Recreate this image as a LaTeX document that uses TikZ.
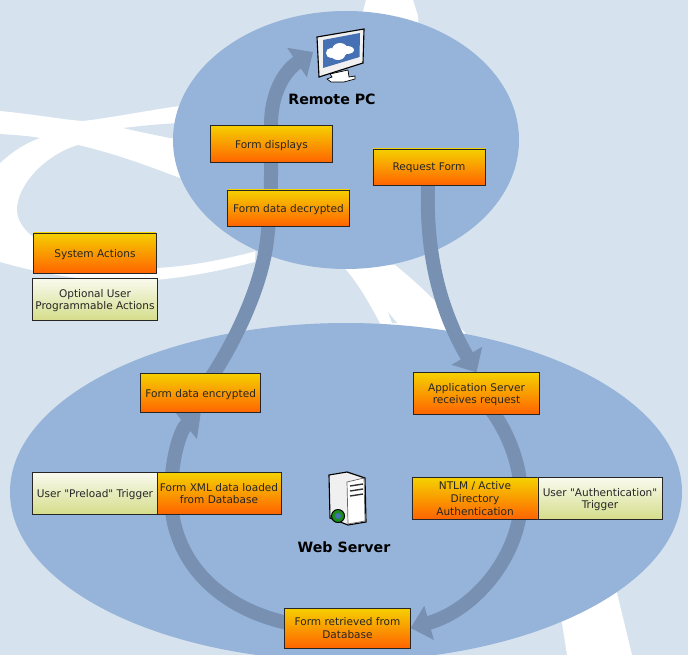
\documentclass[tikz,border=0pt]{standalone}
\usepackage{fontspec}
\setmainfont{DejaVu Sans}[Ligatures=TeXOff]
\usetikzlibrary{arrows.meta,backgrounds}
\definecolor{paleblue}{HTML}{D6E3EE}
\definecolor{cloudblue}{HTML}{96B3D9}
\definecolor{flowblue}{HTML}{7891B3}
\definecolor{screenblue}{HTML}{4670B4}
\definecolor{actiontop}{HTML}{F5D000}
\definecolor{actionbottom}{HTML}{FF6400}
\definecolor{triggertop}{HTML}{F9FAEE}
\definecolor{triggerbottom}{HTML}{D5DD8A}
\tikzset{
  action/.style = {draw=black!85, line width=0.7pt, top color=actiontop, bottom color=actionbottom, inner sep=0pt, align=center, text depth=-0.6pt, font=\fontsize{7.5}{9.2}\selectfont, text=black!85},
  trigger/.style = {action, top color=triggertop, bottom color=triggerbottom},
  flow/.style = {draw=flowblue, line width=0.35cm, -{Triangle[length=0.48cm,width=0.86cm]}},
  hostname/.style = {font=\fontsize{10.1}{12}\selectfont\bfseries, text=black},
}
\begin{document}
\begin{tikzpicture}[x=0.025cm, y=-0.025cm]
\useasboundingbox (0,0) rectangle (688,655);
\begin{scope}[every node/.style = {action}]
\node[minimum width=3.03cm, minimum height=0.93cm] (displays) at (271.5,144) {Form displays};
\node[minimum width=3.03cm, minimum height=0.9cm] (decrypted) at (288.5,208) {Form data decrypted};
\node[minimum width=2.8cm, minimum height=0.9cm] (request) at (429,167) {Request Form};
\node[minimum width=3.05cm, minimum height=1cm] (system) at (95,253) {System Actions};
\node[minimum width=2.99cm, minimum height=0.99cm] (encrypted) at (200.7,393) {Form data encrypted};
\node[minimum width=3.1cm, minimum height=1.03cm] (loaded) at (219,493.5) {Form XML data loaded\\from Database};
\node[minimum width=3.13cm, minimum height=1.03cm] (appserver) at (476.5,393.5) {Application Server\\receives request};
\node[minimum width=3.15cm, minimum height=1.03cm] (ntlm) at (475,498.5) {NTLM / Active\\Directory\\Authentication};
\node[minimum width=3.13cm, minimum height=1cm] (retrieved) at (347.5,628) {Form retrieved from\\Database};
\end{scope}
\begin{scope}[every node/.style = {trigger}]
\node[minimum width=3.1cm, minimum height=1.03cm] (optional) at (95,299.5) {Optional User\\Programmable Actions};
\node[minimum width=3.1cm, minimum height=1.03cm] (preload) at (95,493.5) {User "Preload" Trigger};
\node[minimum width=3.1cm, minimum height=1.03cm] (authtrigger) at (600,498.5) {User "Authentication"\\Trigger};
\end{scope}
\node[hostname] (pclabel) at (332,99) {Remote PC};
\node[hostname] (serverlabel) at (344,547) {Web Server};
\node[minimum width=1.45cm, inner sep=0pt, outer sep=0pt] (pc) at (342,52) {};
% monitor
\draw[black, line width=0.5pt, fill=white] (330,74) -- (348,70) -- (349,77) -- (355,76) -- (355,79) -- (344,82) -- (331,82) -- (327,79) -- (332,77) -- cycle;
\draw[black, line width=0.8pt, fill=black!6] (317,37) -- (364,29) -- (363,63) -- (319,77) -- cycle;
\fill[screenblue] (323,40) -- (360,33) -- (359.5,57) -- (323,68) -- cycle;
\fill[white] (331,53) ellipse [x radius=5, y radius=5];
\fill[white] (340,50) ellipse [x radius=8, y radius=7];
\fill[white] (347,50) ellipse [x radius=7, y radius=4];
\fill[white] (338,55) ellipse [x radius=7, y radius=5];
% server
\draw[black, line width=0.8pt, fill=black!6] (329,475) -- (347,472) -- (365,478) -- (366,522) -- (348,525) -- (330,518) -- cycle;
\draw[black!60, line width=0.5pt, fill=white] (347,482) -- (364,478) -- (365,521) -- (348,524) -- cycle;
\foreach \y in {486,491,496}
  \draw[black!80, line width=1pt] (350,\y) -- (363,\y-2);
\draw[black, line width=0.7pt, fill=green!50!black!90] (338,516) circle [radius=6.5];
\fill[screenblue] (338,516) circle [radius=3];
\begin{scope}[on background layer]
\clip (0,0) rectangle (688,655);
\fill[paleblue] (0,0) rectangle (688,655);
% white sweeps behind the two clouds
\fill[white] (0,111) .. controls (40,115) and (65,120) .. (83,121) .. controls (110,118) and (150,110) .. (180,106) -- (260,150) -- (255,262) .. controls (215,272) and (170,281) .. (130,281) .. controls (80,281) and (40,273) .. (0,262) -- cycle;
\fill[paleblue] (78,145) .. controls (45,155) and (17,185) .. (17,210) .. controls (17,235) and (60,262) .. (130,268) .. controls (170,270) and (215,262) .. (260,250) -- (260,190) -- (180,178) .. controls (150,167) and (120,155) .. (78,145) -- cycle;
\fill[paleblue] (0,134) .. controls (15,135) and (30,136) .. (40,138) .. controls (25,143) and (12,152) .. (0,163) -- cycle;
\fill[paleblue] (123,128) .. controls (140,126) and (160,124) .. (180,123) -- (180,140) .. controls (160,136) and (140,132) .. (123,128) -- cycle;
\fill[white] (366,0) -- (413,0) -- (418,16) -- (418,30) -- (360,30) -- (362,15) -- cycle;
\fill[white] (342,265) .. controls (360,285) and (370,305) .. (380,323) -- (562,623) -- (567,655) -- (632,655) -- (617,593) -- (467,335) .. controls (445,310) and (420,285) .. (395,265) -- cycle;
\fill[paleblue] (388,312) -- (397,323) -- (392,323) -- cycle;
% clouds
\fill[cloudblue] (346,140) ellipse [x radius=173, y radius=129];
\fill[cloudblue] (346,492) ellipse [x radius=336, y radius=169];
% flows
\draw[flow] (encrypted.center) .. controls (235,345) and (262,285) .. (267,240) .. controls (272,200) and (271,170) .. (271,125) .. controls (271,95) and (283,72) .. (pc.west);
\draw[flow] (request.center) .. controls (423,250) and (440,310) .. (appserver.north);
\draw[flow] (appserver.center) .. controls (495,410) and (521,450) .. (521,498) .. controls (521,555) and (475,610) .. (retrieved.east);
\draw[flow] (retrieved.center) .. controls (250,632) and (171,580) .. (171,495) .. controls (171,460) and (180,430) .. (encrypted.south);
\end{scope}
\end{tikzpicture}
\end{document}
